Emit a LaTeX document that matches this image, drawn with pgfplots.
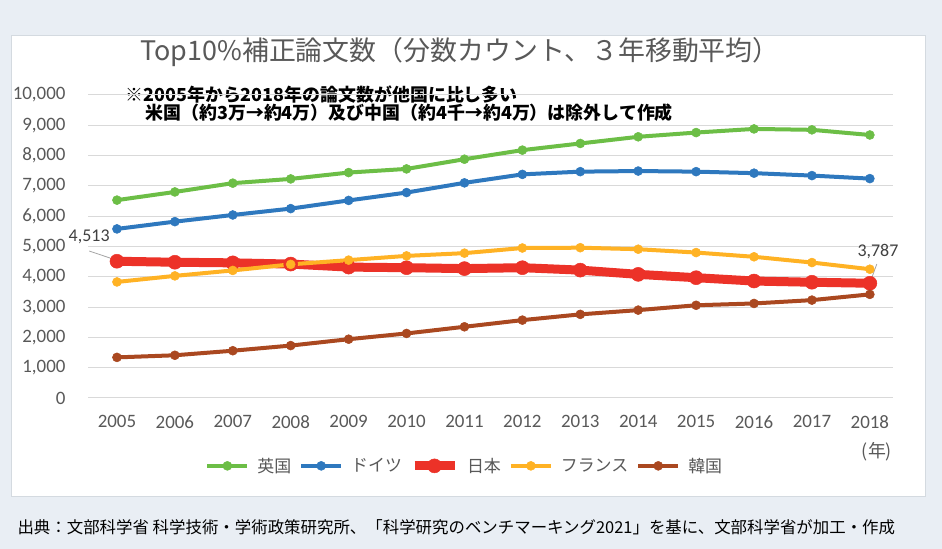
\documentclass[border=0pt]{standalone}
\usepackage{pgfplots}
\pgfplotsset{compat=1.18}
\usepackage{fontspec}
\setmainfont{Carlito}
\newfontfamily\jp{Noto Sans CJK JP}
\definecolor{bgout}{RGB}{233,238,244}
\definecolor{panelborder}{RGB}{212,218,224}
\definecolor{gridgray}{RGB}{217,217,217}
\definecolor{tickgray}{RGB}{89,89,89}
\definecolor{cUK}{RGB}{108,190,70}
\definecolor{cDE}{RGB}{46,120,190}
\definecolor{cJP}{RGB}{236,50,40}
\definecolor{cFR}{RGB}{255,178,36}
\definecolor{cKR}{RGB}{170,72,32}
\begin{document}
\begin{tikzpicture}[x=1bp,y=1bp]
\fill[bgout] (0,0) rectangle (942,549);
\filldraw[fill=white,draw=panelborder,line width=1bp] (11,52) rectangle (925,513);
\node[text=tickgray,font=\jp\fontsize{27}{27}\selectfont] at (460,497) {Top10\%補正論文数（分数カウント、３年移動平均）};
\node[anchor=west,font=\jp\bfseries\fontsize{18}{18}\selectfont] at (122,454) {※2005年から2018年の論文数が他国に比し多い};
\node[anchor=west,font=\jp\bfseries\fontsize{18}{18}\selectfont] at (142,436) {米国（約3万→約4万）及び中国（約4千→約4万）は除外して作成};
\node[text=tickgray,font=\jp\fontsize{18}{18}\selectfont] at (877,97) {(年)};
\node[anchor=west,font=\jp\fontsize{16.5}{16.5}\selectfont] at (14,22) {出典：文部科学省 科学技術・学術政策研究所、「科学研究のベンチマーキング2021」を基に、文部科学省が加工・作成};
\begin{axis}[
  at={(88bp,151bp)}, anchor=south west,
  scale only axis, width=805bp, height=303bp,
  xmin=2004.5, xmax=2018.4, ymin=0, ymax=10000,
  axis line style={draw=none},
  major tick style={draw=none},
  xtick={2005,2006,...,2018},
  ytick={0,1000,...,10000},
  scaled y ticks=false,
  ymajorgrids, grid style={line width=1bp, color=gridgray},
  /pgf/number format/assume math mode=true,
  xticklabel style={/pgf/number format/1000 sep={}, font=\fontsize{19}{19}\selectfont, text=tickgray, yshift=-14bp},
  yticklabel style={/pgf/number format/1000 sep={,}, font=\fontsize{19}{19}\selectfont, text=tickgray, xshift=-19bp},
  clip=false,
  legend style={at={(0.468,-0.224)}, anchor=center, draw=none, fill=none,
    font=\jp\fontsize{17}{17}\selectfont, text=tickgray, column sep=6bp},
  legend columns=-1,
  legend image code/.code={\draw[mark repeat=2,mark phase=2,#1] plot coordinates {(0bp,0bp) (20bp,0bp) (40bp,0bp)};},
  every axis plot/.append style={line width=4bp, mark=*, mark size=4.5bp, mark options={solid, line width=0.5bp}},
]
\addplot[color=cUK] coordinates {(2005,6530) (2006,6800) (2007,7090) (2008,7230) (2009,7440) (2010,7560) (2011,7880) (2012,8180) (2013,8400) (2014,8620) (2015,8760) (2016,8880) (2017,8850) (2018,8680)};
\addlegendentry{英国}
\addplot[color=cDE] coordinates {(2005,5580) (2006,5820) (2007,6040) (2008,6250) (2009,6520) (2010,6780) (2011,7100) (2012,7380) (2013,7470) (2014,7490) (2015,7470) (2016,7420) (2017,7340) (2018,7240)};
\addlegendentry{ドイツ}
\addplot[color=cJP, line width=9bp, mark size=7bp] coordinates {(2005,4513) (2006,4480) (2007,4460) (2008,4420) (2009,4320) (2010,4300) (2011,4270) (2012,4300) (2013,4220) (2014,4080) (2015,3970) (2016,3860) (2017,3820) (2018,3787)};
\addlegendentry{日本}
\addplot[color=cFR] coordinates {(2005,3830) (2006,4030) (2007,4210) (2008,4410) (2009,4550) (2010,4690) (2011,4780) (2012,4950) (2013,4960) (2014,4910) (2015,4800) (2016,4660) (2017,4470) (2018,4250)};
\addlegendentry{フランス}
\addplot[color=cKR] coordinates {(2005,1340) (2006,1410) (2007,1560) (2008,1730) (2009,1940) (2010,2130) (2011,2350) (2012,2570) (2013,2760) (2014,2900) (2015,3060) (2016,3120) (2017,3230) (2018,3420)};
\addlegendentry{韓国}
\draw[gray!70,line width=0.8bp] (axis cs:2004.52,4850) -- (axis cs:2004.88,4620);
\node[text=black!75,font=\fontsize{18}{18}\selectfont] at (axis cs:2004.52,5320) {4,513};
\draw[gray!70,line width=0.8bp] (axis cs:2018.12,4420) -- (axis cs:2018.03,3950);
\node[text=black!75,font=\fontsize{18}{18}\selectfont] at (axis cs:2018.14,4820) {3,787};
\end{axis}
\end{tikzpicture}
\end{document}
